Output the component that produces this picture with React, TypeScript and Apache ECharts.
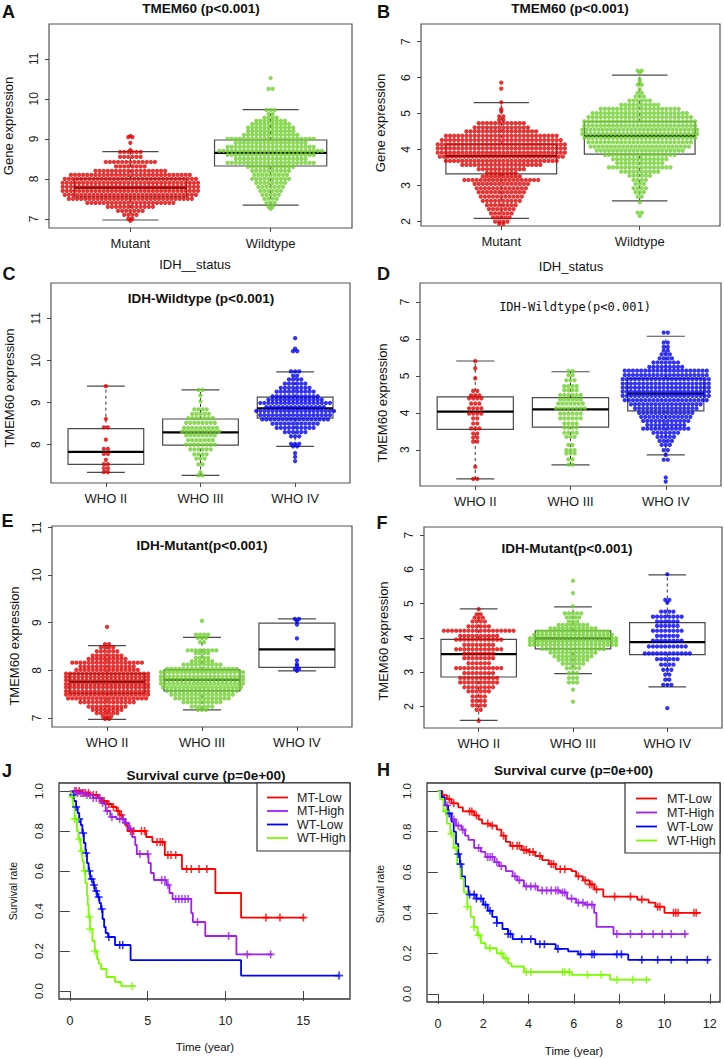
import React, { useEffect, useRef } from "react";
import * as echarts from "echarts";

const FONT = '"Liberation Sans", Arial, Helvetica, sans-serif';

// ---------- categories ----------
const catsIDH = ["Mutant", "Wildtype"];
const catsWHO = ["WHO II", "WHO III", "WHO IV"];

// ---------- beeswarm rows: [expression value, number of points in that row] ----------
const A_mut: [number, number][] = [[9.07,1],[9.04,2],[8.9,1],[8.72,1],[8.67,6],[8.55,6],[8.42,13],[8.31,8],[8.2,18],[8.1,30],[8.0,33],[7.9,34],[7.8,34],[7.7,34],[7.6,33],[7.5,31],[7.4,22],[7.3,12],[7.2,7],[7.1,4],[7.0,2],[6.95,1]];
const A_wt: [number, number][] = [[10.52,1],[10.25,2],[9.72,3],[9.62,2],[9.53,4],[9.45,8],[9.37,10],[9.28,12],[9.19,12],[9.1,14],[9.0,22],[8.9,18],[8.8,22],[8.7,26],[8.6,22],[8.5,18],[8.4,22],[8.3,12],[8.2,10],[8.1,9],[8.0,10],[7.9,8],[7.8,7],[7.7,6],[7.6,5],[7.5,4],[7.4,3],[7.3,2],[7.25,1]];
const B_mut: [number, number][] = [[5.86,1],[5.69,1],[5.31,1],[5.12,1],[5.06,1],[4.92,2],[4.82,2],[4.73,12],[4.61,14],[4.5,18],[4.38,28],[4.26,30],[4.14,32],[4.03,32],[3.91,32],[3.8,31],[3.68,28],[3.57,20],[3.45,12],[3.34,8],[3.25,10],[3.15,19],[3.04,14],[2.92,13],[2.81,12],[2.69,11],[2.57,10],[2.45,8],[2.34,7],[2.22,6],[2.11,5],[1.99,4],[1.93,2]];
const B_wt: [number, number][] = [[6.19,2],[6.13,1],[5.95,1],[5.88,1],[5.8,2],[5.68,1],[5.57,2],[5.47,3],[5.36,6],[5.24,10],[5.13,20],[5.01,24],[4.9,26],[4.78,28],[4.66,28],[4.55,29],[4.43,29],[4.32,28],[4.2,26],[4.08,25],[3.97,22],[3.85,18],[3.73,14],[3.62,12],[3.5,16],[3.38,10],[3.27,6],[3.15,4],[3.04,3],[2.92,4],[2.81,3],[2.69,2],[2.53,1],[2.24,2],[2.15,1]];
const C_II: [number, number][] = [[9.39,1],[8.61,1],[8.41,2],[8.12,1],[7.9,2],[7.78,2],[7.64,1],[7.54,2],[7.44,2],[7.35,2]];
const C_III: [number, number][] = [[9.3,2],[9.17,1],[9.03,1],[8.84,4],[8.73,5],[8.63,7],[8.52,8],[8.4,9],[8.31,10],[8.22,8],[8.11,7],[8.0,8],[7.89,6],[7.77,4],[7.67,3],[7.53,2],[7.35,1],[7.27,2]];
const C_IV: [number, number][] = [[10.53,1],[10.28,1],[10.22,2],[9.74,3],[9.64,2],[9.55,4],[9.45,6],[9.35,8],[9.26,10],[9.15,12],[9.07,14],[8.99,18],[8.89,15],[8.8,20],[8.7,18],[8.6,17],[8.5,12],[8.4,10],[8.3,6],[8.2,3],[8.02,3],[7.96,2],[7.8,1],[7.71,1],[7.61,1]];
const D_II: [number, number][] = [[5.4,1],[5.2,1],[4.93,1],[4.59,2],[4.47,3],[4.39,4],[4.25,3],[4.12,4],[3.98,4],[3.85,2],[3.71,2],[3.58,3],[3.44,2],[3.33,2],[3.22,2],[2.54,1],[2.21,2]];
const D_III: [number, number][] = [[5.13,2],[5.02,2],[4.88,3],[4.72,4],[4.61,4],[4.48,6],[4.36,6],[4.25,7],[4.12,8],[3.98,6],[3.85,6],[3.71,4],[3.6,4],[3.46,4],[3.35,3],[3.13,2],[2.99,3],[2.9,3],[2.74,2],[2.6,2]];
const D_IV: [number, number][] = [[6.17,2],[5.9,2],[5.78,2],[5.68,2],[5.58,3],[5.47,4],[5.36,7],[5.24,9],[5.14,21],[5.02,21],[4.91,22],[4.79,22],[4.68,22],[4.57,22],[4.46,22],[4.34,21],[4.23,18],[4.12,16],[4.0,14],[3.89,13],[3.78,12],[3.67,10],[3.57,12],[3.46,7],[3.35,5],[3.24,4],[3.13,3],[2.99,2],[2.86,1],[2.73,2],[2.25,1],[2.14,1]];
const E_II: [number, number][] = [[8.91,1],[8.55,2],[8.48,4],[8.4,6],[8.31,8],[8.24,10],[8.16,18],[8.08,14],[8.01,16],[7.93,21],[7.86,21],[7.79,21],[7.71,21],[7.64,21],[7.56,21],[7.49,21],[7.41,20],[7.33,14],[7.24,10],[7.17,8],[7.1,6],[7.03,3],[6.98,2]];
const E_III: [number, number][] = [[9.04,1],[8.75,4],[8.68,3],[8.59,2],[8.42,8],[8.36,4],[8.26,4],[8.19,6],[8.12,10],[8.03,18],[7.96,21],[7.87,21],[7.8,21],[7.72,21],[7.64,20],[7.57,18],[7.49,16],[7.41,14],[7.33,10],[7.24,6],[7.17,3]];
const E_IV: [number, number][] = [[9.08,2],[9.03,1],[8.96,1],[8.67,1],[8.21,1],[8.13,1],[8.09,1],[8.03,2],[7.99,1]];
const F_II: [number, number][] = [[4.84,1],[4.69,2],[4.59,3],[4.48,4],[4.34,6],[4.21,18],[4.06,10],[3.95,12],[3.8,8],[3.67,12],[3.54,8],[3.41,8],[3.26,6],[3.12,12],[2.97,8],[2.83,10],[2.7,10],[2.56,8],[2.44,6],[2.29,4],[2.16,4],[2.03,4],[1.9,2],[1.58,1]];
const F_III: [number, number][] = [[5.67,1],[5.31,1],[4.92,1],[4.72,5],[4.6,4],[4.48,3],[4.38,8],[4.28,12],[4.19,18],[4.09,20],[3.99,22],[3.9,22],[3.8,22],[3.68,16],[3.57,12],[3.46,10],[3.36,8],[3.25,6],[3.12,4],[2.97,3],[2.83,3],[2.7,3],[2.49,1],[2.14,1]];
const F_IV: [number, number][] = [[5.86,1],[5.11,2],[5.03,1],[4.77,4],[4.62,8],[4.48,6],[4.35,6],[4.21,8],[4.06,6],[3.92,8],[3.75,10],[3.55,12],[3.38,6],[3.22,4],[3.07,3],[2.93,2],[2.78,2],[2.63,3],[1.95,1]];

// ---------- box statistics: [lower whisker, Q1, median, Q3, upper whisker] ----------
const A_box = [[6.97,7.55,7.78,8.0,8.68],[7.34,8.32,8.65,8.97,9.73]];
const B_box = [[2.08,3.32,3.82,4.15,5.30],[2.57,3.87,4.38,4.77,6.07]];
const C_box = [[7.34,7.53,7.83,8.38,9.39],[7.27,7.99,8.29,8.61,9.30],[7.96,8.63,8.86,9.13,9.73]];
const D_box = [[2.21,3.55,4.03,4.43,5.40],[2.59,3.61,4.09,4.41,5.11],[2.86,4.05,4.52,4.93,6.07]];
const E_box = [[6.97,7.52,7.76,7.93,8.52],[7.17,7.57,7.80,8.01,8.69],[7.99,8.06,8.44,8.99,9.08]];
const F_box = [[1.59,2.86,3.53,3.96,4.85],[2.96,3.68,3.99,4.21,4.91],[2.57,3.51,3.88,4.45,5.84]];

// ---------- tick labels ----------
const ticksA = [7, 8, 9, 10, 11];
const ticksB = [2, 3, 4, 5, 6, 7];
const ticksC = [8, 9, 10, 11];
const ticksD = [3, 4, 5, 6, 7];
const ticksE = [7, 8, 9, 10, 11];
const ticksF = [2, 3, 4, 5, 6, 7];
const ticksSurvY = [0, 0.2, 0.4, 0.6, 0.8, 1.0];
const ticksJX = [0, 5, 10, 15];
const ticksHX = [0, 2, 4, 6, 8, 10, 12];

// ---------- survival curves: [time (year), survival] change points ----------
const survNames = ["MT-Low", "MT-High", "WT-Low", "WT-High"];
const J_MTLow = [[0,1],[0.8,0.99],[1.3,0.98],[1.8,0.965],[2.1,0.95],[2.4,0.935],[2.7,0.92],[3.0,0.9],[3.2,0.88],[3.4,0.86],[3.55,0.83],[3.7,0.8],[4.9,0.77],[5.3,0.745],[6.1,0.68],[7.2,0.61],[9.35,0.49],[11.0,0.367],[15.1,0.367]];
const J_MTHigh = [[0,1],[0.5,0.99],[1.0,0.98],[1.5,0.965],[2.0,0.94],[2.3,0.9],[2.6,0.87],[3.0,0.86],[3.5,0.84],[3.8,0.81],[4.0,0.77],[4.2,0.73],[4.3,0.685],[5.05,0.64],[5.2,0.59],[5.4,0.555],[6.2,0.53],[6.4,0.49],[6.6,0.46],[7.8,0.39],[7.9,0.345],[8.7,0.275],[10.7,0.183],[13.0,0.183]];
const J_WTLow = [[0,1],[0.1,0.98],[0.25,0.95],[0.4,0.92],[0.5,0.89],[0.6,0.86],[0.7,0.83],[0.8,0.79],[0.9,0.74],[1.0,0.69],[1.1,0.64],[1.2,0.6],[1.3,0.56],[1.5,0.53],[1.6,0.5],[1.75,0.47],[1.9,0.44],[2.0,0.41],[2.1,0.36],[2.2,0.32],[2.3,0.29],[2.45,0.27],[2.9,0.23],[3.9,0.154],[11.0,0.077],[17.3,0.077]];
const J_WTHigh = [[0,1],[0.1,0.97],[0.2,0.92],[0.3,0.86],[0.45,0.8],[0.55,0.76],[0.7,0.7],[0.8,0.65],[0.9,0.6],[1.0,0.54],[1.1,0.48],[1.15,0.43],[1.2,0.37],[1.3,0.31],[1.45,0.25],[1.6,0.2],[1.75,0.16],[1.85,0.137],[2.0,0.11],[2.35,0.07],[2.9,0.045],[3.3,0.024],[4.2,0.024]];
const J_cens = [
  [0.4,0.6,0.8,1.0,1.2,1.5,1.7,1.9,2.2,2.5,2.8,3.1,3.3,3.9,4.1,4.6,4.8,5.6,5.8,5.95,6.3,6.5,6.8,7.5,7.8,8.3,8.8,12.6,13.5,15.0],
  [0.3,0.5,0.7,0.9,1.1,1.3,1.5,1.7,1.9,2.1,2.4,2.7,3.2,3.4,3.6,3.9,4.5,5.0,5.9,6.1,6.3,6.8,7.0,7.2,7.4,7.6,8.2,10.2,11.4,12.9],
  [0.2,0.4,0.6,0.85,1.05,1.25,1.4,1.55,1.7,1.85,2.05,2.5,3.2,3.4,17.3],
  [0.15,0.3,0.4,0.6,0.75,0.95,1.25,1.3,1.6,4.0],
];
const H_MTLow = [[0,1],[0.2,0.98],[0.4,0.96],[0.6,0.94],[0.9,0.92],[1.1,0.9],[1.6,0.88],[1.8,0.86],[1.95,0.84],[2.3,0.83],[2.6,0.81],[2.8,0.78],[3.0,0.75],[3.2,0.73],[3.7,0.71],[4.0,0.7],[4.3,0.68],[4.6,0.66],[4.9,0.64],[5.2,0.615],[5.9,0.605],[6.1,0.58],[6.4,0.56],[6.7,0.54],[6.9,0.515],[7.3,0.48],[8.4,0.48],[8.8,0.465],[9.3,0.45],[9.6,0.43],[10.0,0.4],[11.6,0.4]];
const H_MTHigh = [[0,1],[0.15,0.97],[0.3,0.93],[0.45,0.89],[0.6,0.86],[0.8,0.83],[1.05,0.81],[1.2,0.78],[1.35,0.76],[1.6,0.72],[1.9,0.7],[2.1,0.675],[2.5,0.65],[2.7,0.63],[3.0,0.605],[3.3,0.58],[3.5,0.56],[3.8,0.53],[4.4,0.51],[5.4,0.5],[5.7,0.47],[6.1,0.45],[6.5,0.44],[6.9,0.4],[7.0,0.33],[7.75,0.295],[11.0,0.295]];
const H_WTLow = [[0,1],[0.15,0.97],[0.3,0.93],[0.45,0.89],[0.6,0.85],[0.7,0.8],[0.8,0.74],[0.9,0.69],[0.97,0.64],[1.05,0.58],[1.2,0.53],[1.35,0.49],[1.7,0.47],[2.0,0.44],[2.2,0.41],[2.4,0.38],[2.6,0.35],[2.85,0.32],[3.1,0.295],[3.3,0.27],[4.3,0.245],[5.2,0.222],[5.75,0.21],[6.2,0.195],[8.4,0.168],[12.0,0.168]];
const H_WTHigh = [[0,1],[0.1,0.96],[0.25,0.9],[0.4,0.84],[0.55,0.79],[0.7,0.72],[0.85,0.64],[1.0,0.57],[1.15,0.5],[1.3,0.43],[1.45,0.38],[1.6,0.33],[1.75,0.29],[1.9,0.25],[2.1,0.225],[2.6,0.2],[2.9,0.175],[3.1,0.15],[3.25,0.135],[3.8,0.108],[5.9,0.094],[7.6,0.07],[9.4,0.07]];
const H_cens = [
  [0.5,0.7,1.4,1.5,1.7,2.2,2.4,2.9,3.3,3.5,3.6,3.8,3.9,4.05,4.2,4.5,5.0,5.1,5.4,5.6,6.2,6.5,6.7,6.8,7.0,7.8,8.5,9.0,9.7,9.8,10.4,10.5,10.6,11.3,11.4],
  [0.4,0.7,0.9,1.1,1.8,2.2,2.3,2.4,2.6,2.8,3.4,3.6,3.9,4.1,4.3,4.6,4.8,5.0,5.2,5.3,5.5,5.6,5.9,6.2,6.4,6.6,6.8,7.9,8.5,9.0,9.5,9.9,10.3,10.9],
  [0.5,0.9,1.0,1.4,1.6,1.7,1.9,2.1,2.3,2.6,3.1,3.2,3.7,4.1,4.5,4.7,5.3,6.3,6.8,6.9,7.9,8.1,9.0,9.7,10.3,11.0,11.9],
  [0.35,0.6,0.8,1.3,1.6,1.8,2.3,2.8,3.0,3.9,4.1,5.5,5.6,5.8,6.6,7.2,7.9,8.6,9.2],
];

// ---------- styling ----------
const RED = "#E00000";
const GREEN = "#6FCF2F";
const BLUE = "#0000F0";
const survColors = ["#FF0000", "#A020F0", "#0000FF", "#7CFC00"];
const SPACING_PX = 4.1;

type Panel = {
  rect: [number, number, number, number];
  y: [number, number];
  ticks: number[];
  cats: string[];
  groups: [number, number][][];
  colors: string[];
  box: number[][];
};

const boxPanels: Panel[] = [
  { rect: [49, 24, 303, 204], y: [6.77, 11.87], ticks: ticksA, cats: catsIDH, groups: [A_mut, A_wt], colors: [RED, GREEN], box: A_box },
  { rect: [421, 24, 299, 202], y: [1.87, 7.49], ticks: ticksB, cats: catsIDH, groups: [B_mut, B_wt], colors: [RED, GREEN], box: B_box },
  { rect: [51, 283, 299, 200], y: [7.09, 11.84], ticks: ticksC, cats: catsWHO, groups: [C_II, C_III, C_IV], colors: [RED, GREEN, BLUE], box: C_box },
  { rect: [420, 283, 301, 203], y: [2.02, 7.51], ticks: ticksD, cats: catsWHO, groups: [D_II, D_III, D_IV], colors: [RED, GREEN, BLUE], box: D_box },
  { rect: [52, 526, 300, 201], y: [6.81, 11.03], ticks: ticksE, cats: catsWHO, groups: [E_II, E_III, E_IV], colors: [RED, GREEN, BLUE], box: E_box },
  { rect: [424, 527, 298, 201], y: [1.37, 7.24], ticks: ticksF, cats: catsWHO, groups: [F_II, F_III, F_IV], colors: [RED, GREEN, BLUE], box: F_box },
];

function swarm(rows: [number, number][], center: number, dx: number) {
  const pts: number[][] = [];
  rows.forEach(([v, n]) => {
    for (let i = 0; i < n; i++) pts.push([center + (i - (n - 1) / 2) * dx, v]);
  });
  return pts;
}

function stepAt(curve: number[][], t: number) {
  let s = curve[0][1];
  for (const [ct, cs] of curve) if (ct <= t) s = cs;
  return s;
}

const PLUS = "path://M4,0H6V4H10V6H6V10H4V6H0V4H4Z";

function txt(x: number, y: number, text: string, font: string, opts: any = {}) {
  return {
    type: "text",
    x,
    y,
    rotation: opts.rot ? Math.PI / 2 : 0,
    silent: true,
    style: {
      text,
      font,
      fill: opts.fill || "#111",
      textAlign: opts.align || "center",
      textVerticalAlign: "middle",
      align: opts.align || "center",
      verticalAlign: "middle",
    },
  };
}

function buildOption() {
  const grid: any[] = [];
  const xAxis: any[] = [];
  const yAxis: any[] = [];
  const series: any[] = [];

  const axisCommon = {
    type: "value",
    axisLine: { show: false },
    splitLine: { show: false },
  };

  boxPanels.forEach((p, i) => {
    const [l, t, w, h] = p.rect;
    const n = p.cats.length;
    const xmin = 0.42, xmax = n + 0.58;
    grid.push({ left: l, top: t, width: w, height: h, show: true, borderColor: "#555", borderWidth: 1.2 });
    const xt = p.cats.map((_, k) => k + 1);
    xAxis.push({
      ...axisCommon, gridIndex: i, min: xmin, max: xmax,
      axisTick: { show: true, customValues: xt, length: 4, lineStyle: { color: "#444" } },
      axisLabel: { customValues: xt, formatter: (v: number) => p.cats[Math.round(v) - 1] || "", margin: 9, fontSize: 13, color: "#1a1a1a", fontFamily: FONT },
    });
    yAxis.push({
      ...axisCommon, gridIndex: i, min: p.y[0], max: p.y[1],
      axisTick: { show: true, customValues: p.ticks, length: 4, lineStyle: { color: "#444" } },
      axisLabel: { customValues: p.ticks, rotate: 90, margin: 9, fontSize: 12, color: "#1a1a1a", fontFamily: FONT },
    });
    const dx = SPACING_PX * (xmax - xmin) / w;
    series.push({
      type: "custom", xAxisIndex: i, yAxisIndex: i, silent: true, z: 1,
      data: p.box.map((s, k) => [k + 1, ...s]),
      renderItem: (_params: any, api: any) => {
        const x = api.value(0);
        const pMin = api.coord([x, api.value(1)]);
        const pQ1 = api.coord([x, api.value(2)]);
        const pMd = api.coord([x, api.value(3)]);
        const pQ3 = api.coord([x, api.value(4)]);
        const pMax = api.coord([x, api.value(5)]);
        const bw = api.size([0.8, 0])[0];
        const cw = bw / 2;
        const cx = pMd[0];
        const gray = "#4a4a4a";
        return {
          type: "group",
          children: [
            { type: "line", shape: { x1: cx, y1: pQ3[1], x2: cx, y2: pMax[1] }, style: { stroke: "#333", lineWidth: 1, lineDash: [3, 3] } },
            { type: "line", shape: { x1: cx, y1: pMin[1], x2: cx, y2: pQ1[1] }, style: { stroke: "#333", lineWidth: 1, lineDash: [3, 3] } },
            { type: "line", shape: { x1: cx - cw / 2, y1: pMax[1], x2: cx + cw / 2, y2: pMax[1] }, style: { stroke: gray, lineWidth: 1.2 } },
            { type: "line", shape: { x1: cx - cw / 2, y1: pMin[1], x2: cx + cw / 2, y2: pMin[1] }, style: { stroke: gray, lineWidth: 1.2 } },
            { type: "rect", shape: { x: cx - bw / 2, y: pQ3[1], width: bw, height: pQ1[1] - pQ3[1] }, style: { fill: "none", stroke: gray, lineWidth: 1.2 } },
            { type: "line", shape: { x1: cx - bw / 2, y1: pMd[1], x2: cx + bw / 2, y2: pMd[1] }, style: { stroke: "#000", lineWidth: 2.2 } },
          ],
        };
      },
    });
    p.groups.forEach((rows, k) => {
      series.push({
        type: "scatter", xAxisIndex: i, yAxisIndex: i, z: 2, silent: true,
        symbolSize: 4.3,
        itemStyle: { color: p.colors[k] },
        data: swarm(rows, k + 1, dx),
      });
    });
  });

  const survPanels = [
    { rect: [59, 783, 291, 216], x: [-0.7, 18.0], xt: ticksJX, curves: [J_MTLow, J_MTHigh, J_WTLow, J_WTHigh], cens: J_cens },
    { rect: [427, 783, 293, 219], x: [-0.48, 12.45], xt: ticksHX, curves: [H_MTLow, H_MTHigh, H_WTLow, H_WTHigh], cens: H_cens },
  ];
  survPanels.forEach((sp, j) => {
    const i = 6 + j;
    const [l, t, w, h] = sp.rect;
    grid.push({ left: l, top: t, width: w, height: h, show: true, borderColor: "#333", borderWidth: 1.3 });
    xAxis.push({
      ...axisCommon, gridIndex: i, min: sp.x[0], max: sp.x[1],
      axisTick: { show: true, customValues: sp.xt, length: 10, lineStyle: { color: "#444" } },
      axisLabel: { customValues: sp.xt, margin: 15, fontSize: 12.5, color: "#222", fontFamily: FONT },
    });
    yAxis.push({
      ...axisCommon, gridIndex: i, min: -0.04, max: 1.04,
      axisTick: { show: true, customValues: ticksSurvY, length: 10, lineStyle: { color: "#444" } },
      axisLabel: { customValues: ticksSurvY, rotate: 90, margin: 14, fontSize: 11.5, color: "#222", fontFamily: FONT, formatter: (v: number) => v.toFixed(1) },
    });
    sp.curves.forEach((c, k) => {
      series.push({
        type: "line", name: survNames[k], xAxisIndex: i, yAxisIndex: i, step: "end",
        showSymbol: false, silent: true, z: 3,
        lineStyle: { color: survColors[k], width: 1.8 },
        data: c,
      });
      series.push({
        type: "scatter", xAxisIndex: i, yAxisIndex: i, silent: true, z: 4,
        symbol: PLUS, symbolSize: 8,
        itemStyle: { color: survColors[k] },
        data: sp.cens[k].map((tt) => [tt, stepAt(c, tt)]),
      });
    });
  });

  const BOLD_T = `bold 13.5px ${FONT}`;
  const LET = `bold 18px ${FONT}`;
  const LAB = `13px ${FONT}`;
  const graphic: any[] = [
    txt(8.5, 12, "A", LET), txt(383.5, 12, "B", LET), txt(9, 274, "C", LET), txt(383.5, 274, "D", LET),
    txt(7.5, 521, "E", LET), txt(382, 522.5, "F", LET), txt(7, 771, "J", LET), txt(383.5, 770, "H", LET),
    txt(201, 8.5, "TMEM60 (p<0.001)", BOLD_T),
    txt(570, 8.5, "TMEM60 (p<0.001)", BOLD_T),
    txt(201, 298, "IDH-Wildtype (p<0.001)", BOLD_T),
    txt(575, 307, "IDH-Wildtype(p<0.001)", `12px "DejaVu Sans Mono", monospace`),
    txt(202, 545, "IDH-Mutant(p<0.001)", BOLD_T),
    txt(567, 548, "IDH-Mutant(p<0.001)", BOLD_T),
    txt(206, 775, "Survival curve (p=0e+00)", BOLD_T),
    txt(573.5, 770, "Survival curve (p=0e+00)", BOLD_T),
    txt(8, 126, "Gene expression", LAB, { rot: true }),
    txt(380, 123, "Gene expression", LAB, { rot: true }),
    txt(195, 264, "IDH__status", LAB),
    txt(571, 266, "IDH_status", LAB),
    txt(9, 388, "TMEM60 expression", LAB, { rot: true }),
    txt(382, 403, "TMEM60 expression", LAB, { rot: true }),
    txt(14, 646, "TMEM60 expression", LAB, { rot: true }),
    txt(383, 641, "TMEM60 expression", LAB, { rot: true }),
    txt(12.5, 891, "Survival rate", `10.5px ${FONT}`, { rot: true }),
    txt(380, 894, "Survival rate", `10.5px ${FONT}`, { rot: true }),
    txt(205, 1047, "Time (year)", `11.5px ${FONT}`),
    txt(574, 1051, "Time (year)", `11.5px ${FONT}`),
  ];

  const legends = [
    { box: [257, 783, 93, 68], lx: [267, 288], tx: 297, ys: [797.5, 811, 824.5, 838] },
    { box: [625, 783, 95, 70], lx: [636, 657], tx: 667, ys: [798.5, 812.5, 826.5, 840.5] },
  ];
  legends.forEach((lg) => {
    graphic.push({ type: "rect", silent: true, shape: { x: lg.box[0], y: lg.box[1], width: lg.box[2], height: lg.box[3] }, style: { fill: "#fff", stroke: "#333", lineWidth: 1.2 } });
    survNames.forEach((nm, k) => {
      graphic.push({ type: "line", silent: true, shape: { x1: lg.lx[0], y1: lg.ys[k], x2: lg.lx[1], y2: lg.ys[k] }, style: { stroke: survColors[k], lineWidth: 1.8 } });
      graphic.push(txt(lg.tx, lg.ys[k], nm, `12.5px ${FONT}`, { align: "left", fill: "#222" }));
    });
  });

  return {
    animation: false,
    backgroundColor: "#fff",
    grid, xAxis, yAxis, series, graphic,
  };
}

export default function App() {
  const ref = useRef<HTMLDivElement>(null);
  useEffect(() => {
    if (!ref.current) return;
    const chart = echarts.init(ref.current, undefined, { renderer: "svg" });
    chart.setOption(buildOption() as any);
    return () => chart.dispose();
  }, []);
  return (
    <div
      ref={ref}
      style={{ position: "absolute", left: 0, top: 0, width: 724, height: 1059, background: "#fff" }}
    />
  );
}
